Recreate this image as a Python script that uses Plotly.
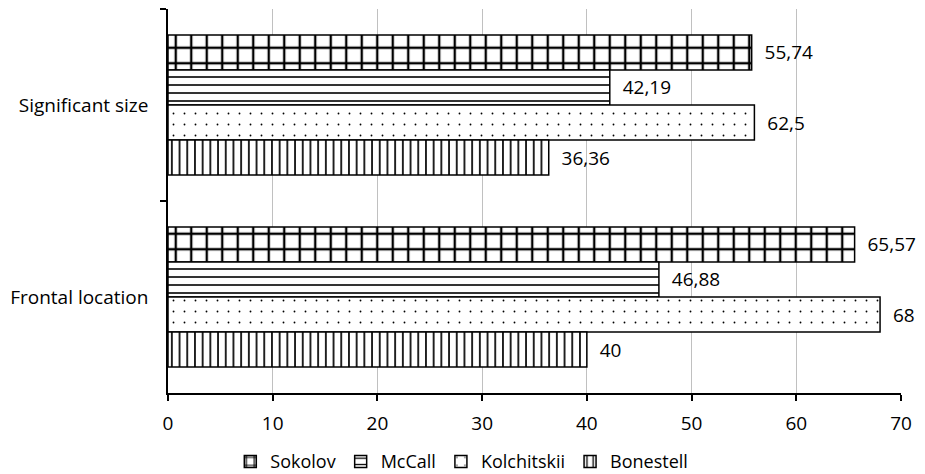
import plotly.graph_objects as go

categories = ["Significant size", "Frontal location"]
series_names = ["Sokolov", "McCall", "Kolchitskii", "Bonestell"]
# bar lengths as drawn in the picture
sokolov = [55.74, 65.57]
mccall = [42.19, 46.88]
kolchitskii = [56.0, 68.0]
bonestell = [36.36, 40.0]
# value labels as printed in the picture
sokolov_lbl = ["55,74", "65,57"]
mccall_lbl = ["42,19", "46,88"]
kolchitskii_lbl = ["62,5", "68"]
bonestell_lbl = ["36,36", "40"]
x_ticks = [0, 10, 20, 30, 40, 50, 60, 70]

values = [sokolov, mccall, kolchitskii, bonestell]
labels = [sokolov_lbl, mccall_lbl, kolchitskii_lbl, bonestell_lbl]
patterns = [
    dict(shape="+", size=15.5, solidity=0.28),
    dict(shape="-", size=8, solidity=0.2),
    dict(shape=".", size=11, solidity=0.022),
    dict(shape="|", size=7.7, solidity=0.22),
]

FONT = "Open Sans"
FS = 19
fig = go.Figure()
for name, v, lb, pat in zip(series_names, values, labels, patterns):
    fig.add_trace(go.Bar(
        name=name, y=categories, x=v, orientation="h",
        text=["\u00a0\u00a0" + t for t in lb],
        textposition="outside", constraintext="none", cliponaxis=False,
        textfont=dict(family=FONT, size=FS, color="black"),
        marker=dict(color="white", line=dict(color="black", width=1.5),
                    pattern=dict(fgcolor="black", bgcolor="white", fillmode="replace", **pat)),
        hoverinfo="skip",
    ))

fig.update_layout(
    width=925, height=474,
    margin=dict(l=168, r=24, t=9, b=81, autoexpand=False),
    paper_bgcolor="white", plot_bgcolor="white",
    barmode="group", bargap=0.27, bargroupgap=0,
    font=dict(family=FONT, size=FS, color="black"),
    showlegend=True,
    legend=dict(orientation="h", x=0.085, xanchor="left", xref="paper",
                y=0.026, yanchor="middle", yref="container", traceorder="normal",
                font=dict(family=FONT, size=18), itemwidth=30, tracegroupgap=0),
    xaxis=dict(range=[0, 70], tickvals=x_ticks, ticktext=[str(t) for t in x_ticks],
               showgrid=True, gridcolor="#c0c0c0", gridwidth=1,
               showline=True, linecolor="black", linewidth=1.5,
               ticks="outside", ticklen=6, tickcolor="black", tickwidth=1.5,
               ticklabelstandoff=6, zeroline=False, automargin=False,
               tickfont=dict(family=FONT, size=FS)),
    yaxis=dict(type="category", categoryorder="array", categoryarray=categories,
               autorange="reversed", showgrid=False,
               showline=True, linecolor="black", linewidth=1.5,
               ticks="outside", ticklen=6, tickcolor="black", tickwidth=1.5,
               tickson="boundaries", ticklabelstandoff=14, automargin=False,
               tickfont=dict(family=FONT, size=FS)),
)

fig.write_html("out.html")
